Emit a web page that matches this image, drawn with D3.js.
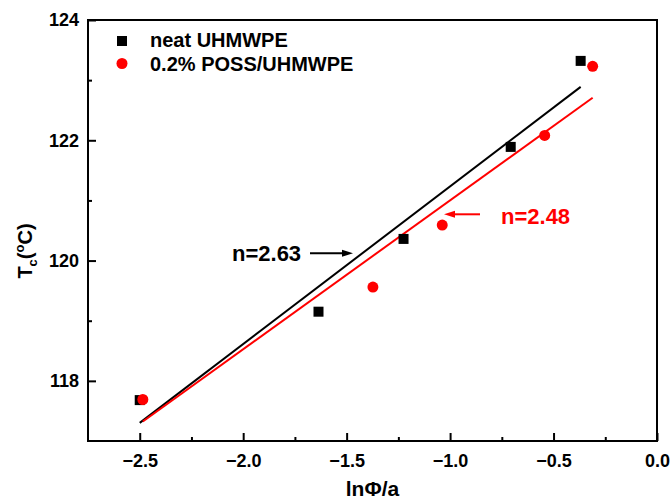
<!DOCTYPE html>
<html>
<head>
<meta charset="utf-8">
<script src="https://cdn.jsdelivr.net/npm/d3@7"></script>
<style>
  body { margin: 0; background: #fff; }
  svg { font-family: "Liberation Sans", Arial, sans-serif; font-weight: bold; }
</style>
</head>
<body>
<svg id="chart" width="671" height="501"></svg>
<script>
// data
let neatX = [-2.50, -1.636, -1.225, -0.707, -0.369]
let neatY = [117.68, 119.15, 120.36, 121.89, 123.32]
let possX = [-2.485, -1.373, -1.038, -0.543, -0.311]
let possY = [117.69, 119.56, 120.59, 122.08, 123.23]

let seriesNames = ['neat UHMWPE', '0.2% POSS/UHMWPE']
let seriesColors = ['#000000', '#ff0000']
let fitLabels = ['n=2.63', 'n=2.48']

let xTicks = [-2.5, -2.0, -1.5, -1.0, -0.5, 0.0]
let xMinor = [-2.25, -1.75, -1.25, -0.75, -0.25]
let yTicks = [118, 120, 122, 124]
let yMinor = [119, 121, 123]

let margin = { top: 20, right: 14, bottom: 60, left: 88 },
  canvas_width = 671,
  canvas_height = 501,
  plot_width = canvas_width - margin.left - margin.right,
  plot_height = canvas_height - margin.top - margin.bottom

let svg = d3.select('#chart')

let xScale = d3.scaleLinear().domain([-2.75, 0]).range([margin.left, margin.left + plot_width])
let yScale = d3.scaleLinear().domain([117, 124]).range([margin.top + plot_height, margin.top])

// least squares fit
function linFit(xs, ys) {
  let mx = d3.mean(xs), my = d3.mean(ys)
  let sxy = 0, sxx = 0
  for (let i = 0; i < xs.length; i++) {
    sxy += (xs[i] - mx) * (ys[i] - my)
    sxx += (xs[i] - mx) * (xs[i] - mx)
  }
  let b = sxy / sxx
  return { b: b, a: my - b * mx }
}

// axes
svg.append('g')
  .attr('transform', `translate(0,${margin.top + plot_height})`)
  .call(d3.axisBottom(xScale).tickValues(xTicks).tickSize(-8).tickPadding(13).tickFormat(d3.format('.1f')))
svg.append('g')
  .attr('transform', `translate(0,${margin.top + plot_height})`)
  .call(d3.axisBottom(xScale).tickValues(xMinor).tickSize(-4).tickFormat(''))

svg.append('g')
  .attr('transform', `translate(${margin.left},0)`)
  .call(d3.axisLeft(yScale).tickValues(yTicks).tickSize(-8).tickPadding(9).tickFormat(d3.format('d')))
svg.append('g')
  .attr('transform', `translate(${margin.left},0)`)
  .call(d3.axisLeft(yScale).tickValues(yMinor).tickSize(-4).tickFormat(''))

svg.selectAll('.domain').remove()
svg.selectAll('.tick line').attr('stroke', '#000').attr('stroke-width', 2)
svg.selectAll('.tick text')
  .attr('fill', '#000')
  .attr('font-size', '18px')
  .attr('font-family', '"Liberation Sans", Arial, sans-serif')
  .attr('font-weight', 'bold')

// frame
svg.append('rect')
  .attr('x', margin.left)
  .attr('y', margin.top)
  .attr('width', plot_width)
  .attr('height', plot_height)
  .attr('fill', 'none')
  .attr('stroke', '#000')
  .attr('stroke-width', 2)

// axis labels
svg.append('text')
  .attr('x', margin.left + plot_width / 2)
  .attr('y', 496)
  .attr('text-anchor', 'middle')
  .attr('font-size', '21px')
  .text('lnΦ/a')

let ylab = svg.append('text')
  .attr('transform', 'translate(32,251) rotate(-90)')
  .attr('text-anchor', 'middle')
  .attr('font-size', '20px')
ylab.append('tspan').text('T')
ylab.append('tspan').attr('font-size', '13px').attr('dy', 5).text('c')
ylab.append('tspan').attr('dy', -5).text('(')
ylab.append('tspan').attr('font-size', '13px').attr('dy', -8).text('o')
ylab.append('tspan').attr('dy', 8).text('C)')

// fit lines
let series = [
  { xs: neatX, ys: neatY },
  { xs: possX, ys: possY }
]
series.forEach((s, i) => {
  let f = linFit(s.xs, s.ys)
  let x0 = d3.min(s.xs), x1 = d3.max(s.xs)
  svg.append('line')
    .attr('x1', xScale(x0)).attr('y1', yScale(f.a + f.b * x0))
    .attr('x2', xScale(x1)).attr('y2', yScale(f.a + f.b * x1))
    .attr('stroke', seriesColors[i])
    .attr('stroke-width', 2)
})

// points
svg.append('g').selectAll('rect')
  .data(d3.zip(neatX, neatY))
  .enter().append('rect')
  .attr('x', d => xScale(d[0]) - 5)
  .attr('y', d => yScale(d[1]) - 5)
  .attr('width', 10)
  .attr('height', 10)
  .attr('fill', seriesColors[0])

svg.append('g').selectAll('circle')
  .data(d3.zip(possX, possY))
  .enter().append('circle')
  .attr('cx', d => xScale(d[0]))
  .attr('cy', d => yScale(d[1]))
  .attr('r', 5.5)
  .attr('fill', seriesColors[1])

// legend
let legend = svg.append('g')
legend.append('rect').attr('x', 117).attr('y', 36).attr('width', 10).attr('height', 10).attr('fill', seriesColors[0])
legend.append('circle').attr('cx', 122).attr('cy', 63.5).attr('r', 5.5).attr('fill', seriesColors[1])
legend.append('text').attr('x', 150).attr('y', 47).attr('font-size', '20px').text(seriesNames[0])
legend.append('text').attr('x', 150).attr('y', 70.5).attr('font-size', '20px').text(seriesNames[1])

// annotations
function arrow(xFrom, xTo, y, color) {
  let dir = Math.sign(xTo - xFrom)
  svg.append('line')
    .attr('x1', xFrom).attr('y1', y)
    .attr('x2', xTo - dir * 8).attr('y2', y)
    .attr('stroke', color).attr('stroke-width', 2)
  svg.append('path')
    .attr('d', `M${xTo},${y} L${xTo - dir * 11},${y - 3.5} L${xTo - dir * 11},${y + 3.5} Z`)
    .attr('fill', color)
}

svg.append('text')
  .attr('x', 232).attr('y', 261)
  .attr('font-size', '22px')
  .attr('fill', seriesColors[0])
  .text(fitLabels[0])
arrow(310, 353, 253.3, seriesColors[0])

svg.append('text')
  .attr('x', 501).attr('y', 223.5)
  .attr('font-size', '22px')
  .attr('fill', seriesColors[1])
  .text(fitLabels[1])
arrow(480, 444, 214.3, seriesColors[1])
</script>
</body>
</html>
